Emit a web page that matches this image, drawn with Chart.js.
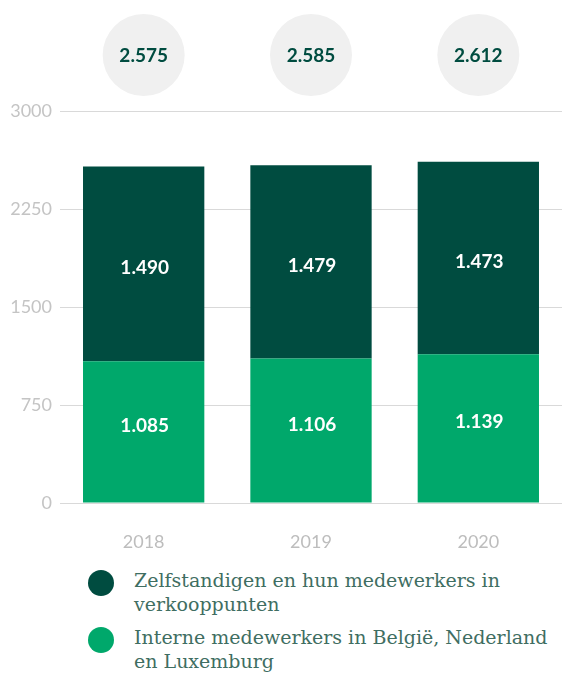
<!DOCTYPE html>
<html>
<head>
<meta charset="utf-8">
<script src="https://cdn.jsdelivr.net/npm/chart.js@4"></script>
<style>
  html, body { margin: 0; padding: 0; background: #ffffff; }
  #wrap { position: relative; width: 562px; height: 673px; overflow: hidden; }
  #chartBox { position: absolute; left: 0; top: 0; width: 562px; height: 560px; }
  .legend { position: absolute; left: 0; top: 568px; width: 562px; font-family: "DejaVu Serif", serif; font-size: 19px; line-height: 24px; color: #3f6e62; }
  .item { position: relative; padding-left: 134px; margin-bottom: 9px; width: 420px; }
  .dot { position: absolute; left: 88px; top: 2px; width: 26px; height: 26px; border-radius: 50%; }
</style>
</head>
<body>
<div id="wrap">
  <div id="chartBox"><canvas id="c" width="562" height="560"></canvas></div>
  <div class="legend" id="legend"></div>
</div>
<script>
const categories = ['2018', '2019', '2020'];
const seriesNames = ['Zelfstandigen en hun medewerkers in verkooppunten', 'Interne medewerkers in België, Nederland en Luxemburg'];
const zelfstandigen = [1490, 1479, 1473];
const interne = [1085, 1106, 1139];
const yTicks = [0, 750, 1500, 2250, 3000];

const DARK = '#004c40';
const LIGHT = '#00a86b';

function fmt(n) {
  return String(n).replace(/\B(?=(\d{3})+(?!\d))/g, '.');
}

const totals = categories.map((_, i) => zelfstandigen[i] + interne[i]);

const overlayPlugin = {
  id: 'overlay',
  afterDatasetsDraw(chart) {
    const ctx = chart.ctx;
    const xs = chart.scales.x;
    ctx.save();
    chart.data.datasets.forEach((ds, di) => {
      const meta = chart.getDatasetMeta(di);
      const shift = di === 0 ? -7 : 3;
      meta.data.forEach((bar, i) => {
        const p = bar.getProps(['x', 'y', 'base'], true);
        const cy = (p.y + p.base) / 2 + shift;
        ctx.fillStyle = '#ffffff';
        ctx.font = 'bold 19px Lato';
        ctx.textAlign = 'center';
        ctx.textBaseline = 'middle';
        ctx.fillText(fmt(ds.data[i]), p.x + 1, cy + 1);
      });
    });
    totals.forEach((t, i) => {
      const x = xs.getPixelForValue(i);
      const y = 55;
      ctx.beginPath();
      ctx.arc(x, y, 41, 0, Math.PI * 2);
      ctx.fillStyle = '#f0f0f0';
      ctx.fill();
      ctx.fillStyle = '#004c40';
      ctx.font = 'bold 19px Lato';
      ctx.textAlign = 'center';
      ctx.textBaseline = 'middle';
      ctx.fillText(fmt(t), x, y + 1);
    });
    ctx.restore();
  }
};

new Chart(document.getElementById('c'), {
  type: 'bar',
  data: {
    labels: categories,
    datasets: [
      { label: seriesNames[1], data: interne, backgroundColor: LIGHT, borderWidth: 0 },
      { label: seriesNames[0], data: zelfstandigen, backgroundColor: DARK, borderWidth: 0 }
    ]
  },
  options: {
    responsive: false,
    animation: false,
    layout: { padding: { top: 111, right: 0, bottom: 0, left: 0 } },
    plugins: { legend: { display: false }, tooltip: { enabled: false } },
    datasets: { bar: { barPercentage: 0.725, categoryPercentage: 1 } },
    scales: {
      x: {
        stacked: true,
        grid: { display: false, drawTicks: false },
        border: { display: false },
        ticks: { color: '#bdbdbd', font: { family: 'Lato', size: 18 }, padding: 28 },
        afterFit(s) { s.height = 57; }
      },
      y: {
        stacked: true,
        min: 0, max: 3000,
        afterBuildTicks(s) { s.ticks = yTicks.map(v => ({ value: v })); },
        grid: { color: '#d9d9d9', lineWidth: 1, drawTicks: false },
        border: { display: false },
        ticks: { color: '#c4c4c4', font: { family: 'Lato', size: 18 }, padding: 8, callback: v => String(v) },
        afterFit(s) { s.width = 60; }
      }
    }
  },
  plugins: [overlayPlugin]
});

const legend = document.getElementById('legend');
[[seriesNames[0], DARK], [seriesNames[1], LIGHT]].forEach(([name, col]) => {
  const d = document.createElement('div');
  d.className = 'item';
  d.innerHTML = '<span class="dot" style="background:' + col + '"></span>' + name;
  legend.appendChild(d);
});
</script>
</body>
</html>
